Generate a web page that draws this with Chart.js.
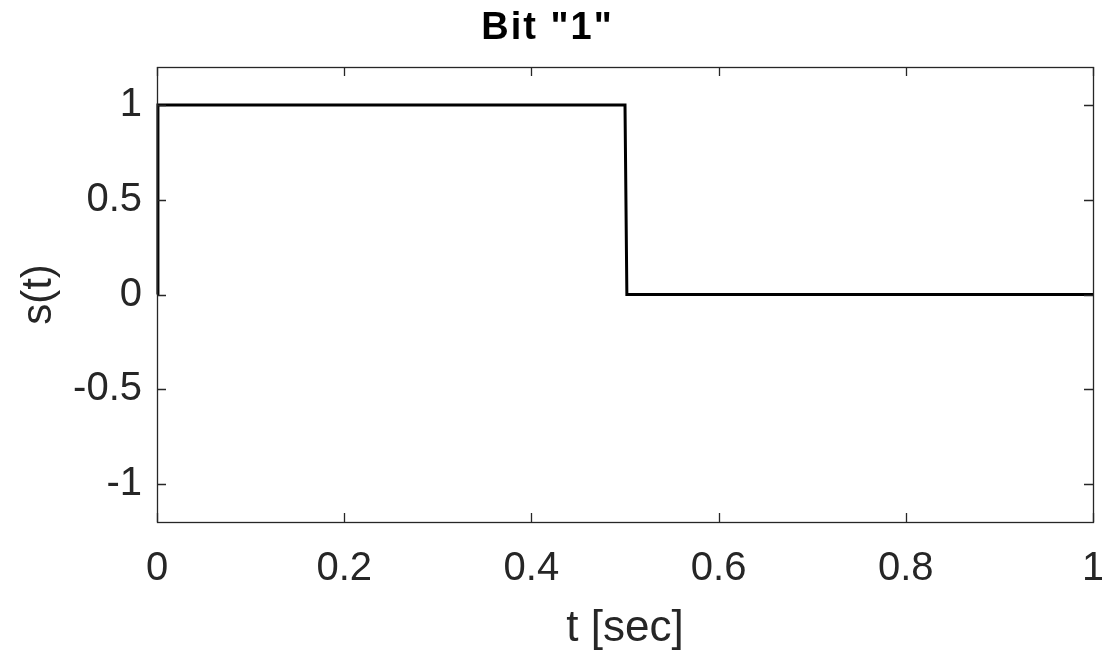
<!DOCTYPE html>
<html>
<head>
<meta charset="utf-8">
<script src="https://cdn.jsdelivr.net/npm/chart.js@4.4.1/dist/chart.umd.min.js"></script>
<style>
  html, body { margin: 0; padding: 0; background: #ffffff; }
  #wrap { width: 1102px; height: 655px; position: relative; }
</style>
</head>
<body>
<div id="wrap"><canvas id="c" width="1102" height="655"></canvas></div>
<script>
// ---- data ----
const tValues = [0, 0.001, 0.5, 0.502, 1];
const sValues = [0, 1, 1, 0, 0];
const xTicks = [0, 0.2, 0.4, 0.6, 0.8, 1];
const yTicks = [-1, -0.5, 0, 0.5, 1];
const titleText = 'Bit "1"';
const xLabel = 't [sec]';
const yLabel = 's(t)';

const FONT = '"Liberation Sans", Arial, Helvetica, sans-serif';
const AXIS_COLOR = '#262626';

const points = tValues.map((t, i) => ({ x: t, y: sValues[i] }));

const canvas = document.getElementById('c');
const ctx2d = canvas.getContext('2d');
// slightly wider letter spacing for the title only (as in the reference rendering)
const origFillText = ctx2d.fillText;
ctx2d.fillText = function (t, x, y, w) {
  if (t === titleText && 'letterSpacing' in this) {
    const prev = this.letterSpacing;
    this.letterSpacing = '2px';
    origFillText.call(this, t, x + 1, y, w);
    this.letterSpacing = prev;
  } else {
    origFillText.call(this, t, x, y, w);
  }
};

const boxTicks = {
  id: 'boxTicks',
  afterDatasetsDraw(chart) {
    const { ctx, chartArea: a, scales } = chart;
    const len = 9;
    ctx.save();
    ctx.strokeStyle = AXIS_COLOR;
    ctx.lineWidth = 1.3;
    ctx.beginPath();
    for (const v of xTicks) {
      const px = Math.round(scales.x.getPixelForValue(v)) + 0.5;
      ctx.moveTo(px, a.bottom); ctx.lineTo(px, a.bottom - len);
      ctx.moveTo(px, a.top); ctx.lineTo(px, a.top + len);
    }
    for (const v of yTicks) {
      const py = Math.round(scales.y.getPixelForValue(v)) + 0.5;
      ctx.moveTo(a.left, py); ctx.lineTo(a.left + len, py);
      ctx.moveTo(a.right, py); ctx.lineTo(a.right - len, py);
    }
    ctx.stroke();
    ctx.strokeRect(Math.round(a.left) + 0.5, Math.round(a.top) + 0.5,
                   Math.round(a.right - a.left), Math.round(a.bottom - a.top));
    ctx.restore();
  }
};

new Chart(canvas, {
  type: 'line',
  data: {
    datasets: [{
      data: points,
      borderColor: '#000000',
      borderWidth: 3,
      pointRadius: 0,
      tension: 0,
      fill: false,
      clip: false
    }]
  },
  options: {
    responsive: false,
    animation: false,
    layout: { padding: { left: 0, right: 9, top: 0, bottom: 0 } },
    plugins: {
      legend: { display: false },
      tooltip: { enabled: false },
      title: {
        display: true,
        text: titleText,
        color: '#000000',
        font: { family: FONT, size: 38, weight: 'bold', lineHeight: 1.2 },
        padding: { top: 6, bottom: 15.4 }
      }
    },
    scales: {
      x: {
        type: 'linear',
        min: 0, max: 1,
        afterBuildTicks: (s) => { s.ticks = xTicks.map(v => ({ value: v })); },
        afterFit: (s) => { s.height = 133; s.paddingLeft = 0; s.paddingRight = 0; },
        grid: { display: false, drawTicks: false },
        border: { display: false },
        ticks: {
          color: AXIS_COLOR,
          font: { family: FONT, size: 40 },
          padding: 23,
          maxRotation: 0,
          callback: (v) => String(v)
        },
        title: {
          display: true,
          text: xLabel,
          color: AXIS_COLOR,
          font: { family: FONT, size: 44 },
          padding: { top: 0, bottom: 0 }
        }
      },
      y: {
        type: 'linear',
        min: -1.2, max: 1.2,
        afterBuildTicks: (s) => { s.ticks = yTicks.map(v => ({ value: v })); },
        afterFit: (s) => { s.width = 157; s.paddingTop = 0; s.paddingBottom = 0; },
        grid: { display: false, drawTicks: false },
        border: { display: false },
        ticks: {
          color: AXIS_COLOR,
          font: { family: FONT, size: 40 },
          padding: 15,
          callback: (v) => String(v)
        },
        title: {
          display: true,
          text: yLabel,
          color: AXIS_COLOR,
          font: { family: FONT, size: 42 },
          padding: { top: 14, bottom: 0 }
        }
      }
    }
  },
  plugins: [boxTicks]
});
</script>
</body>
</html>
